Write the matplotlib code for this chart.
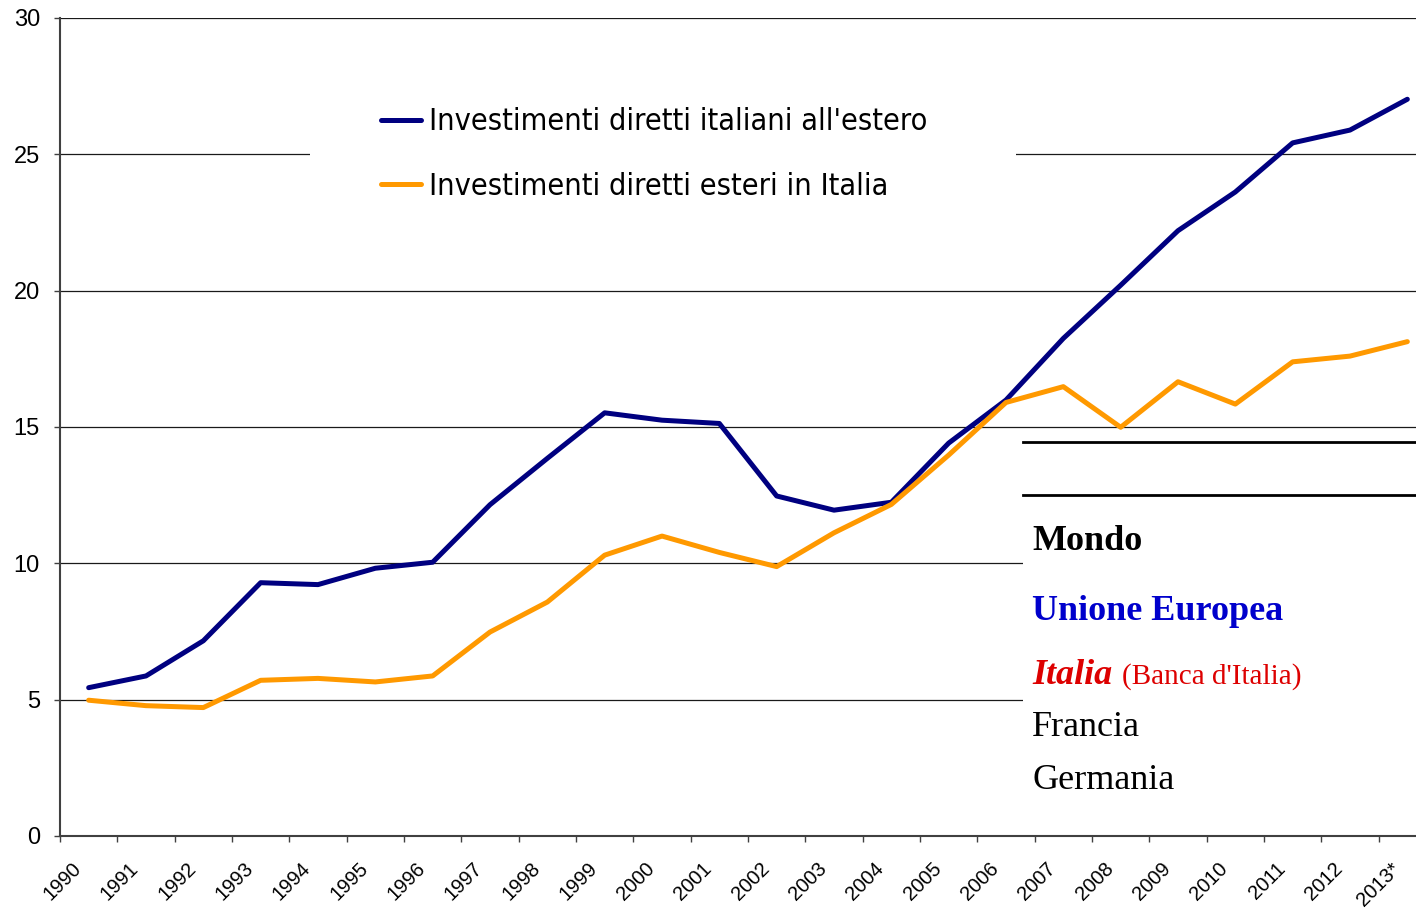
import matplotlib
matplotlib.use("Agg")
import matplotlib.pyplot as plt
import matplotlib.transforms as mtransforms
from matplotlib.patches import Rectangle
from matplotlib.lines import Line2D

# data (% of GDP)
years = ["1990", "1991", "1992", "1993", "1994", "1995", "1996", "1997", "1998", "1999",
         "2000", "2001", "2002", "2003", "2004", "2005", "2006", "2007", "2008", "2009",
         "2010", "2011", "2012", "2013*"]
ide_italiani = [5.44, 5.87, 7.16, 9.29, 9.22, 9.82, 10.04, 12.15, 13.85, 15.52,
                15.25, 15.13, 12.47, 11.95, 12.24, 14.41, 15.99, 18.25, 20.2, 22.2,
                23.62, 25.42, 25.89, 27.02]
ide_esteri = [4.98, 4.78, 4.71, 5.71, 5.78, 5.65, 5.87, 7.48, 8.58, 10.3,
              11.0, 10.4, 9.88, 11.12, 12.16, 13.97, 15.9, 16.48, 14.99, 16.66,
              15.84, 17.39, 17.6, 18.13]
series_names = ["Investimenti diretti italiani all'estero", "Investimenti diretti esteri in Italia"]
series_colors = ["#000080", "#FF9900"]
yticks = [0, 5, 10, 15, 20, 25, 30]

W, H = 1416, 910
fig = plt.figure(figsize=(W / 100, H / 100), dpi=100)
# plot area runs past the right edge of the picture, as in the original
ax = fig.add_axes([60 / W, (H - 836) / H, 1376 / W, 818 / H])

x = list(range(len(years)))
for vals, name, col in zip([ide_italiani, ide_esteri], series_names, series_colors):
    ax.plot(x, vals, color=col, lw=3.6, label=name, zorder=3, solid_capstyle="round")

ax.set_xlim(-0.5, len(years) - 0.5)
ax.set_ylim(0, 30)
ax.set_axisbelow(True)
ax.set_yticks(yticks)
ax.yaxis.grid(True, color="#1a1a1a", lw=0.9)
ax.tick_params(axis="y", labelsize=17, length=4.5, width=1, color="#404040", pad=10)
for lab in ax.get_yticklabels():
    lab.set_family(["Liberation Sans", "DejaVu Sans"])

ax.set_xticks(x)
ax.set_xticklabels(years, rotation=45, ha="right", va="top", rotation_mode="anchor",
                   fontsize=14.5, family=["Liberation Sans", "DejaVu Sans"])
ax.set_xticks([i - 0.5 for i in range(len(years) + 1)], minor=True)
ax.tick_params(axis="x", which="major", length=0, pad=16.5)
ax.tick_params(axis="x", which="minor", length=4.5, width=1, color="#404040")
shift = mtransforms.ScaledTranslation(-17 / 100, 0, fig.dpi_scale_trans)
for lab in ax.get_xticklabels():
    lab.set_transform(lab.get_transform() + shift)

for s in ["top", "right"]:
    ax.spines[s].set_visible(False)
for s in ["left", "bottom"]:
    ax.spines[s].set_color("#404040")
    ax.spines[s].set_linewidth(1.5)

# white boxes that hide the gridlines behind legend and notes
ax.add_patch(Rectangle((0.1817, 0.76), 0.513, 0.15, transform=ax.transAxes,
                       facecolor="white", edgecolor="none", zorder=2))
ax.add_patch(Rectangle((0.6995, 0.0), 0.31, 0.489, transform=ax.transAxes,
                       facecolor="white", edgecolor="none", zorder=2))
for yy in [0.4817, 0.4169]:
    ax.add_line(Line2D([0.7, 1.0], [yy, yy], transform=ax.transAxes, color="black",
                       lw=2, zorder=2.6, clip_on=False))

ax.legend(loc="center left", bbox_to_anchor=(366 / W, 1 - 154 / H), bbox_transform=fig.transFigure,
          frameon=False, borderpad=0, handlelength=1.3, handletextpad=0.25, labelspacing=1.15,
          prop={"family": "DejaVu Sans", "stretch": "condensed", "size": 22})

serif = ["Liberation Serif", "DejaVu Serif"]
fig.text(1032 / W, 1 - 550 / H, "Mondo", fontsize=26, weight="bold", family=serif, va="baseline")
fig.text(1032 / W, 1 - 620 / H, "Unione Europea", fontsize=26, weight="bold", color="#0000CC",
         family=serif, va="baseline")
fig.text(1032 / W, 1 - 684 / H, "Italia", fontsize=26, weight="bold", style="italic", color="#DD0000",
         family=serif, va="baseline")
fig.text(1122 / W, 1 - 684 / H, "(Banca d'Italia)", fontsize=21, color="#DD0000", family=serif,
         va="baseline")
fig.text(1032 / W, 1 - 736 / H, "Francia", fontsize=26, family=serif, va="baseline")
fig.text(1032 / W, 1 - 789 / H, "Germania", fontsize=26, family=serif, va="baseline")

fig.savefig("out.png", dpi=100, facecolor="white")
